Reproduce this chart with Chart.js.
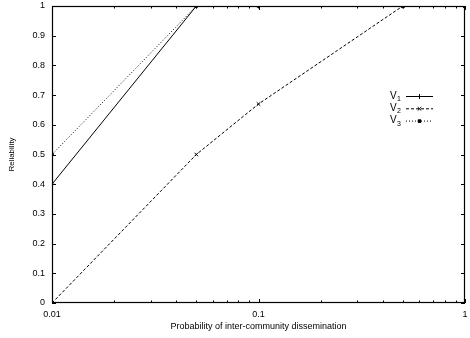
<!DOCTYPE html>
<html><head><meta charset="utf-8">
<script src="https://cdn.jsdelivr.net/npm/chart.js@4/dist/chart.umd.min.js"></script>
<style>html,body{margin:0;padding:0;background:#fff}#c{display:block}</style>
</head><body>
<canvas id="c" width="470" height="338"></canvas>
<script>
const xValues = [0.01, 0.05, 0.1, 0.5, 1];
const v1 = [0.4, 1, 1, 1, 1];
const v2 = [0, 0.5, 0.67, 1, 1];
const v3 = [0.5, 1, 1, 1, 1];
const seriesNames = ["V1", "V2", "V3"];
const xTickLabels = [0.01, 0.1, 1];
const yTickLabels = [0, 0.1, 0.2, 0.3, 0.4, 0.5, 0.6, 0.7, 0.8, 0.9, 1];
const FONT = "Liberation Sans, Arial, sans-serif";

function pts(ys){ return xValues.map((x,i)=>({x:x,y:ys[i]})); }

const dashes = [[], [3,2], [1,2]];
const pstyles = ['cross', 'crossRot', 'rect'];
const datasets = [v1, v2, v3].map((ys,i)=>({
  label: seriesNames[i],
  data: pts(ys),
  borderColor: '#000',
  backgroundColor: '#000',
  borderWidth: 1,
  borderDash: dashes[i],
  pointStyle: pstyles[i],
  pointRadius: i===2 ? 1.8 : 2.5,
  pointBorderWidth: 1,
  tension: 0
}));

const frame = {
  id: 'frame',
  afterDraw(chart){
    const ctx = chart.ctx, a = chart.chartArea;
    const xs = chart.scales.x, ys = chart.scales.y;
    ctx.save();
    ctx.strokeStyle = '#000'; ctx.lineWidth = 1.2; ctx.setLineDash([]);
    ctx.strokeRect(a.left+0.5, a.top+0.5, a.right-a.left-1, a.bottom-a.top-1);
    ctx.lineWidth = 1;
    ctx.beginPath();
    for (let d=0.01; d<=1.0001; d*=10){
      for (let m=1; m<10; m++){
        const v = d*m; if (v>1.0001) break;
        const px = Math.round(xs.getPixelForValue(v))+0.5;
        const len = m===1 ? 4 : 2.5;
        ctx.moveTo(px, a.bottom); ctx.lineTo(px, a.bottom-len);
        ctx.moveTo(px, a.top); ctx.lineTo(px, a.top+len);
      }
    }
    yTickLabels.forEach(v=>{
      const py = Math.round(ys.getPixelForValue(v))+0.5;
      ctx.moveTo(a.left, py); ctx.lineTo(a.left+4, py);
      ctx.moveTo(a.right, py); ctx.lineTo(a.right-4, py);
    });
    ctx.stroke();
    // legend
    const lx = 390, ly0 = 96, step = 12.3;
    chart.data.datasets.forEach((ds,i)=>{
      const y = ly0 + i*step;
      ctx.fillStyle = '#000';
      ctx.font = '10px ' + FONT;
      ctx.textBaseline = 'middle'; ctx.textAlign = 'left';
      ctx.fillText(ds.label.charAt(0), lx, y);
      ctx.font = '7px ' + FONT;
      ctx.fillText(ds.label.slice(1), lx+7, y+3);
      ctx.beginPath();
      ctx.setLineDash(ds.borderDash);
      ctx.moveTo(406, y+0.5); ctx.lineTo(433, y+0.5);
      ctx.stroke();
      ctx.setLineDash([]);
      Chart.helpers.drawPoint(ctx, {pointStyle: ds.pointStyle, radius: ds.pointRadius, borderWidth: 1}, 419.5, y+0.5);
      ctx.fill();
    });
    ctx.restore();
  }
};

new Chart(document.getElementById('c'), {
  type: 'line',
  data: { datasets },
  options: {
    responsive: false, animation: false,
    layout: { padding: { top: 6, right: 3, left: 0, bottom: 0 } },
    plugins: { legend: { display: false }, tooltip: { enabled: false } },
    scales: {
      x: {
        type: 'logarithmic', min: 0.01, max: 1,
        afterBuildTicks(s){ s.ticks = xTickLabels.map(v=>({value:v})); },
        afterFit(s){ s.height = 35; s.paddingLeft = 0; s.paddingRight = 0; },
        grid: { display: false, drawTicks: false },
        border: { display: false },
        ticks: { color: '#000', font: { family: FONT, size: 9 }, padding: 6, maxRotation: 0,
          callback: v => String(v) },
        title: { display: true, text: 'Probability of inter-community dissemination', color: '#000',
          font: { family: FONT, size: 9 }, padding: { top: 3, bottom: 6 } }
      },
      y: {
        min: 0, max: 1,
        afterBuildTicks(s){ s.ticks = yTickLabels.map(v=>({value:v})); },
        afterFit(s){ s.width = 52; s.paddingTop = 0; s.paddingBottom = 0; },
        grid: { display: false, drawTicks: false },
        border: { display: false },
        ticks: { color: '#000', font: { family: FONT, size: 9 }, padding: 7,
          callback: v => String(v) },
        title: { display: true, text: 'Reliability', color: '#000',
          font: { family: FONT, size: 8 }, padding: { top: 7, bottom: 0 } }
      }
    }
  },
  plugins: [frame]
});
</script>
</body></html>
